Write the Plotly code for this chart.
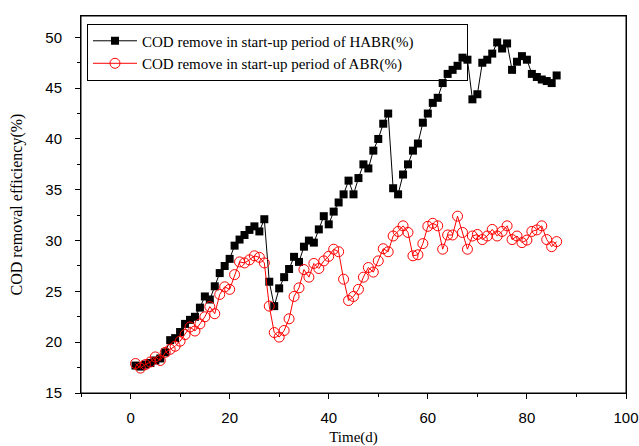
import plotly.graph_objects as go

days = list(range(1, 87))

habr = [17.7, 17.6, 17.8, 17.95, 18.2, 18.4, 19.0, 20.2, 20.4, 21.0,
        21.8, 22.2, 22.5, 23.4, 24.5, 24.2, 25.5, 26.8, 27.5, 28.2,
        29.5, 30.1, 30.55, 31.05, 31.4, 30.9, 32.1, 25.95, 23.55, 25.3,
        26.4, 27.2, 28.4, 27.9, 29.4, 30.0, 29.8, 31.1, 32.4, 31.6,
        32.85, 33.75, 34.55, 35.9, 34.55, 36.15, 37.5, 37.1, 38.85, 40.0,
        41.5, 42.5, 35.15, 34.55, 36.5, 37.5, 38.85, 39.55, 41.6, 42.5,
        43.55, 44.05, 45.5, 46.4, 46.8, 47.2, 48.0, 47.8, 43.9, 44.4,
        47.5, 47.8, 48.4, 49.5, 48.9, 49.4, 46.8, 47.6, 48.15, 47.8,
        46.4, 46.1, 45.85, 45.7, 45.5, 46.25]

abr = [17.9, 17.45, 17.8, 18.05, 18.55, 18.2, 19.0, 19.3, 19.6, 20.1,
       20.75, 21.5, 21.1, 21.8, 22.5, 23.5, 22.8, 24.7, 25.45, 25.2,
       26.65, 27.9, 27.8, 28.1, 28.5, 28.35, 27.8, 23.55, 20.95, 20.5,
       21.15, 22.3, 24.5, 25.35, 27.15, 26.4, 27.75, 27.25, 28.0, 28.45,
       29.15, 28.9, 26.2, 24.1, 24.5, 25.2, 26.4, 27.35, 26.9, 28.0,
       29.2, 28.9, 30.45, 30.9, 31.45, 30.8, 28.5, 28.6, 29.7, 31.4,
       31.7, 31.45, 29.15, 30.55, 30.55, 32.4, 30.8, 29.15, 30.45, 30.6,
       30.1, 30.45, 31.1, 30.45, 30.9, 31.45, 30.1, 30.45, 29.8, 30.05,
       30.9, 31.05, 31.45, 30.1, 29.4, 29.9]

x_ticks = [0, 20, 40, 60, 80, 100]
y_ticks = [15, 20, 25, 30, 35, 40, 45, 50]
x_range = [-10, 100]
y_range = [15, 52.1]

serif = "Liberation Serif, Times New Roman, serif"
sans = "Liberation Sans, Arial, sans-serif"

fig = go.Figure()
fig.add_trace(go.Scatter(
    x=days, y=habr, mode="lines+markers",
    name="COD remove in start-up period of HABR(%)",
    line=dict(color="black", width=1),
    marker=dict(symbol="square", size=8, color="black"),
))
fig.add_trace(go.Scatter(
    x=days, y=abr, mode="lines+markers",
    name="COD remove in start-up period of ABR(%)",
    line=dict(color="red", width=1),
    marker=dict(symbol="circle-open", size=10, color="red", line=dict(width=1)),
))

axis_common = dict(
    showgrid=False, zeroline=False, showline=True, linecolor="black",
    linewidth=1, mirror=True, ticks="outside", tickcolor="black",
    ticklen=5, tickwidth=1, automargin=False, ticklabeloverflow="allow",
    tickfont=dict(family=sans, size=15, color="black"),
)

fig.update_layout(
    width=639, height=446, autosize=False,
    margin=dict(l=81, r=13, t=16, b=53),
    paper_bgcolor="white", plot_bgcolor="white",
    showlegend=True,
    legend=dict(
        orientation="h",
        x=0.011, y=0.98, xanchor="left", yanchor="top",
        bgcolor="rgba(255,255,255,0)", bordercolor="black", borderwidth=1,
        font=dict(family=serif, size=15, color="black"),
        tracegroupgap=0, itemwidth=44,
        entrywidthmode="pixels", entrywidth=320,
    ),
    xaxis=dict(
        range=x_range, tickvals=x_ticks,
        minor=dict(ticks="outside", ticklen=3, dtick=10, tickcolor="black"),
        ticklabelstandoff=6,
        title=dict(text="Time(d)", font=dict(family=serif, size=15, color="black"), standoff=10),
        **axis_common,
    ),
    yaxis=dict(
        range=y_range, tickvals=y_ticks,
        minor=dict(ticks="outside", ticklen=3, dtick=2.5, tickcolor="black"),
        ticklabelstandoff=10,
        title=dict(text="COD removal efficiency(%)", font=dict(family=serif, size=16, color="black"), standoff=18),
        **axis_common,
    ),
    xaxis2=dict(
        overlaying="x", side="top", anchor="y", range=x_range, tickvals=x_ticks,
        showticklabels=False, showgrid=False, zeroline=False, showline=False,
        automargin=False,
        ticks="inside", ticklen=5, tickcolor="black",
        minor=dict(ticks="inside", ticklen=3, dtick=10, tickcolor="black"),
    ),
    yaxis2=dict(
        overlaying="y", side="right", anchor="x", range=y_range, tickvals=y_ticks,
        showticklabels=False, showgrid=False, zeroline=False, showline=False,
        automargin=False,
        ticks="inside", ticklen=5, tickcolor="black",
        minor=dict(ticks="inside", ticklen=3, dtick=2.5, tickcolor="black"),
    ),
    shapes=[dict(type="rect", xref="paper", yref="paper", x0=0, y0=0, x1=1, y1=1,
                 line=dict(color="black", width=1), layer="above")],
)

fig.write_html(
    "out.html",
    config={"responsive": False, "displayModeBar": False},
    post_script="document.body.style.margin='0';document.body.style.overflow='hidden';",
)
